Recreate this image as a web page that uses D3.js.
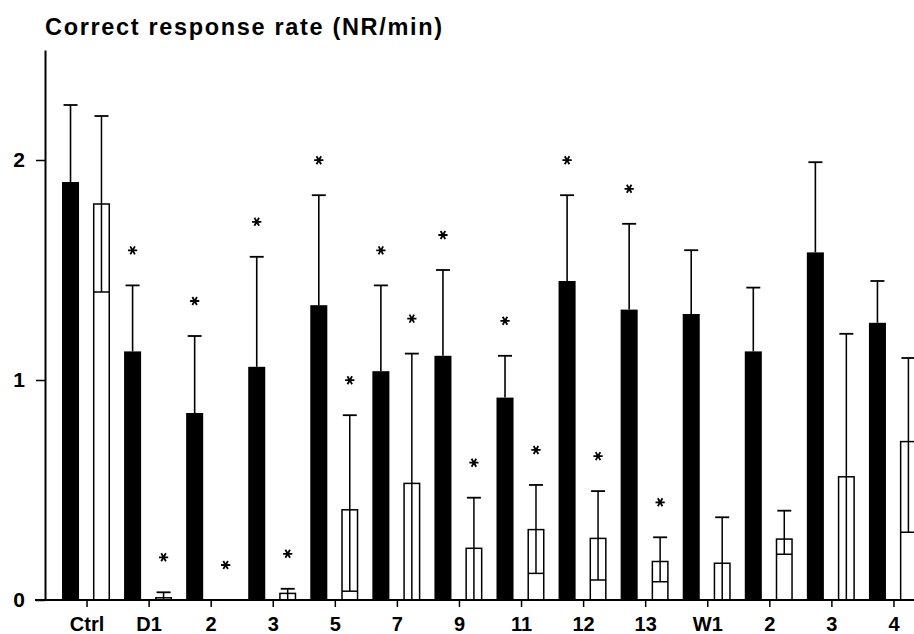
<!DOCTYPE html>
<html>
<head>
<meta charset="utf-8">
<script src="https://cdn.jsdelivr.net/npm/d3@7"></script>
<style>
	body { margin:0; background:#fff; }
	svg { display:block; font-family:"Liberation Sans", Arial, Helvetica, sans-serif; font-weight:bold; }
</style>
</head>
<body>
<div id="chart-container"></div>
<script>
var categories = ["Ctrl","D1","2","3","5","7","9","11","12","13","W1","2","3","4"]

// filled bars: mean and SEM (upper whisker only)
var blackMean = [1.90,1.13,0.85,1.06,1.34,1.04,1.11,0.92,1.45,1.32,1.30,1.13,1.58,1.26]
var blackErr  = [0.35,0.30,0.35,0.50,0.50,0.39,0.39,0.19,0.39,0.39,0.29,0.29,0.41,0.19]
var blackSig  = [0,1,1,1,1,1,1,1,1,1,0,0,0,0]

// open bars: mean, whisker ends
var whiteMean  = [1.80,0.01,0,0.03,0.41,0.53,0.235,0.32,0.28,0.175,0.167,0.277,0.56,0.72]
var whiteUpper = [2.20,0.035,0,0.051,0.84,1.12,0.465,0.523,0.495,0.285,0.376,0.406,1.21,1.10]
var whiteLower = [1.40,0,0,0,0.04,0,0,0.121,0.091,0.083,0,0.208,0,0.308]
var whiteSig   = [0,1,1,1,1,1,1,1,1,1,0,0,0,0]

var yTicks = [0,1,2]

var chart = {}
chart.width = 914
chart.height = 634
chart.capWidth = 14
chart.starGap = 35

chart.svg = d3.select("#chart-container")
	.append("svg")
	.attr("width",chart.width)
	.attr("height",chart.height)

var idx = categories.map(function(d,i){ return i })

var x = d3.scaleBand()
	.domain(idx)
	.range([56,925])
	.paddingInner(0)
	.paddingOuter(0)

var xSub = d3.scaleBand()
	.domain(["black","white"])
	.range([6,54])
	.paddingInner(0.45)
	.paddingOuter(0)

var y = d3.scaleLinear()
	.domain([0,2.5])
	.range([600,50])

chart.svg.append("text")
	.attr("x",45)
	.attr("y",35)
	.attr("font-size",23.5)
	.attr("textLength",397)
	.attr("lengthAdjust","spacing")
	.text("Correct response rate (NR/min)")

// y axis
var yAxis = chart.svg.append("g")
	.attr("transform","translate(45,0)")
	.call(d3.axisLeft(y).tickValues(yTicks).tickSize(9).tickSizeOuter(0).tickPadding(11).tickFormat(d3.format("d")))
yAxis.select(".domain").attr("stroke-width",2)
yAxis.selectAll(".tick line").attr("stroke-width",1.5)
yAxis.selectAll("text")
	.attr("font-size",21)
	.attr("font-family",null)

// x axis
var xAxis = chart.svg.append("g")
	.attr("transform","translate(0,600)")
	.call(d3.axisBottom(x).tickSize(7).tickPadding(10).tickFormat(function(d){ return categories[d] }))
xAxis.select(".domain").remove()
xAxis.selectAll(".tick line").attr("stroke-width",1.5)
xAxis.selectAll("text")
	.attr("font-size",20)
	.attr("font-family",null)

var slots = chart.svg.selectAll("g.slot")
	.data(idx)
	.enter()
	.append("g")
	.attr("class","slot")
	.attr("transform",function(d){
		return "translate("+x(d)+",0)"
	})

var bw = xSub.bandwidth()

// filled bars
slots.append("rect")
	.attr("x",xSub("black"))
	.attr("width",bw)
	.attr("y",function(d){ return y(blackMean[d]) })
	.attr("height",function(d){ return y(0)-y(blackMean[d]) })
	.attr("fill","#000")

slots.append("line")
	.attr("x1",xSub("black")+bw/2)
	.attr("x2",xSub("black")+bw/2)
	.attr("y1",function(d){ return y(blackMean[d]) })
	.attr("y2",function(d){ return y(blackMean[d]+blackErr[d]) })
	.attr("stroke","#000")
	.attr("stroke-width",1.6)

slots.append("line")
	.attr("x1",xSub("black")+bw/2-chart.capWidth/2)
	.attr("x2",xSub("black")+bw/2+chart.capWidth/2)
	.attr("y1",function(d){ return y(blackMean[d]+blackErr[d]) })
	.attr("y2",function(d){ return y(blackMean[d]+blackErr[d]) })
	.attr("stroke","#000")
	.attr("stroke-width",1.8)

// open bars
var openSlots = slots.filter(function(d){ return whiteUpper[d] > 0 })

openSlots.append("rect")
	.attr("x",xSub("white")+0.75)
	.attr("width",bw-1.5)
	.attr("y",function(d){ return y(whiteMean[d]) })
	.attr("height",function(d){ return y(0)-y(whiteMean[d]) })
	.attr("fill","#fff")
	.attr("stroke","#000")
	.attr("stroke-width",1.5)

openSlots.append("line")
	.attr("x1",xSub("white")+bw/2)
	.attr("x2",xSub("white")+bw/2)
	.attr("y1",function(d){ return y(whiteLower[d]) })
	.attr("y2",function(d){ return y(whiteUpper[d]) })
	.attr("stroke","#000")
	.attr("stroke-width",1.5)

openSlots.append("line")
	.attr("x1",xSub("white")+bw/2-chart.capWidth/2)
	.attr("x2",xSub("white")+bw/2+chart.capWidth/2)
	.attr("y1",function(d){ return y(whiteUpper[d]) })
	.attr("y2",function(d){ return y(whiteUpper[d]) })
	.attr("stroke","#000")
	.attr("stroke-width",1.8)

openSlots.filter(function(d){ return whiteLower[d] > 0 })
	.append("line")
	.attr("x1",xSub("white")+0.75)
	.attr("x2",xSub("white")+bw-0.75)
	.attr("y1",function(d){ return y(whiteLower[d]) })
	.attr("y2",function(d){ return y(whiteLower[d]) })
	.attr("stroke","#000")
	.attr("stroke-width",1.5)

// significance stars
var star = d3.symbol(d3.symbolAsterisk,60)

slots.filter(function(d){ return blackSig[d] })
	.append("path")
	.attr("d",star)
	.attr("transform",function(d){
		return "translate("+(xSub("black")+bw/2)+","+(y(blackMean[d]+blackErr[d])-chart.starGap)+") rotate(90)"
	})
	.attr("fill","none")
	.attr("stroke","#000")
	.attr("stroke-width",1.8)

slots.filter(function(d){ return whiteSig[d] })
	.append("path")
	.attr("d",star)
	.attr("transform",function(d){
		return "translate("+(xSub("white")+bw/2)+","+(y(whiteUpper[d])-chart.starGap)+") rotate(90)"
	})
	.attr("fill","none")
	.attr("stroke","#000")
	.attr("stroke-width",1.8)

// baseline
chart.svg.append("line")
	.attr("x1",35)
	.attr("x2",chart.width)
	.attr("y1",y(0))
	.attr("y2",y(0))
	.attr("stroke","#000")
	.attr("stroke-width",2)
</script>
</body>
</html>
